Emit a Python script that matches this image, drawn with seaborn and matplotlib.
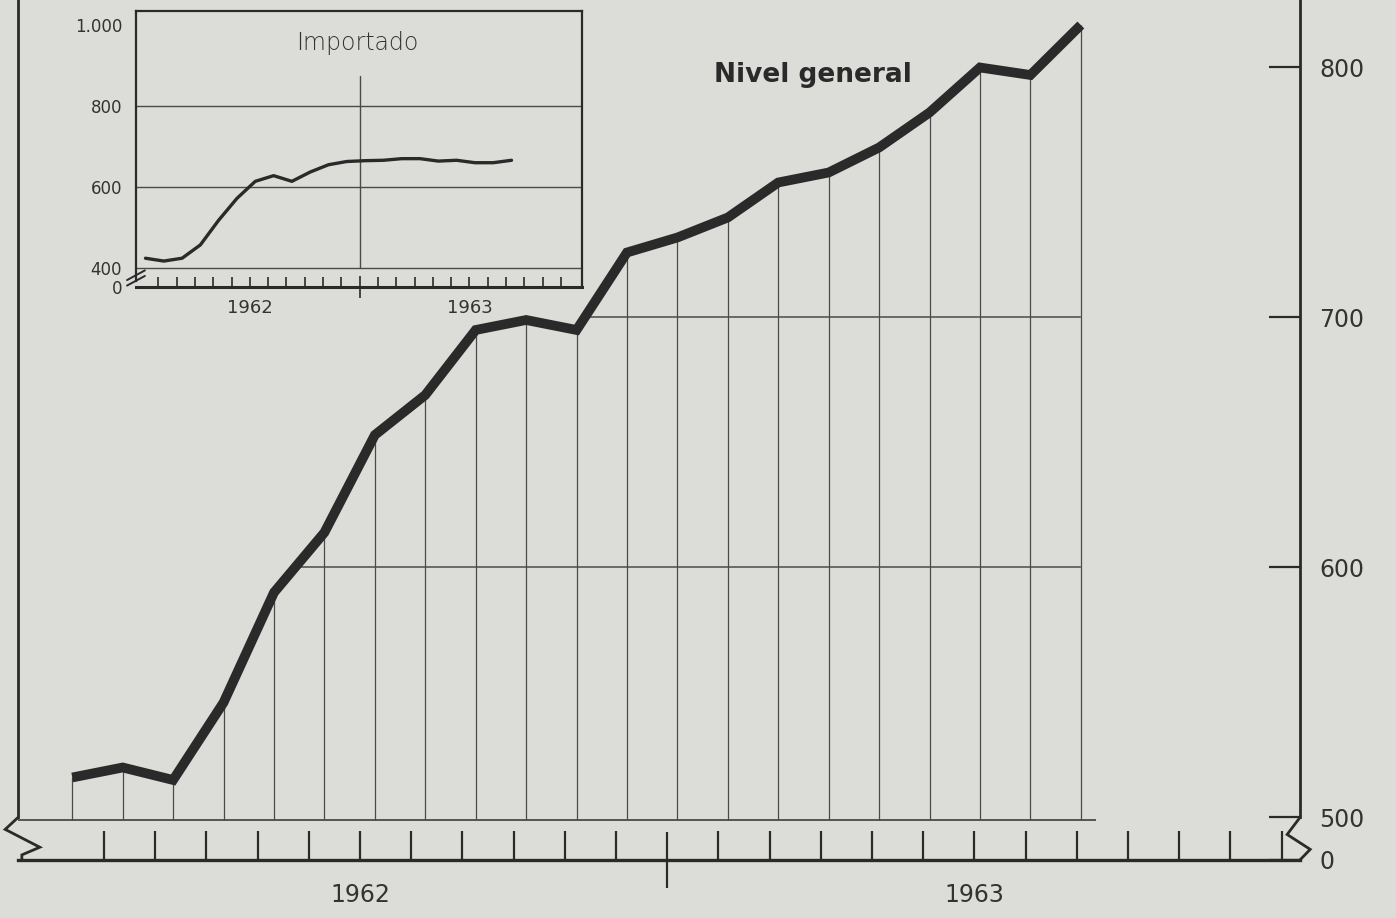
import numpy as np
import pandas as pd
import matplotlib
matplotlib.use("Agg")
import matplotlib.pyplot as plt
import matplotlib.transforms as mtransforms
import seaborn as sns

sns.set_style("white")
plt.rcParams["font.family"] = ["DejaVu Sans"]

# meses: 0 = enero 1962 ... 20 = septiembre 1963
meses = list(range(21))
nivel_general = [516, 520, 515, 546, 590, 614, 653, 669, 695, 699, 695,
                 726, 732, 740, 754, 758, 768, 782, 800, 797, 817]
importado = [424, 417, 424, 457, 518, 572, 614, 628, 614, 637, 655,
             663, 665, 666, 670, 670, 664, 666, 660, 660, 666]
anios = ["1962", "1963"]
ticks_der = [500, 600, 700, 800]
ticks_in = [400, 600, 800, 1000]
ticks_in_lbl = ["400", "600", "800", "1.000"]

PAPEL = "#dcdcd8"
TINTA = "#2a2a2a"
GRIS = "#4a4a4a"


def main():
    fig = plt.figure(figsize=(13.96, 9.18), dpi=100, facecolor=PAPEL)

    # grafico principal
    ax = fig.add_axes([0.0129, 0.0632, 0.9183, 0.9368])
    ax.set_facecolor(PAPEL)
    y0, y1 = 483, 827
    ax.set_xlim(-0.68, 24.36)
    ax.set_ylim(y0, y1)

    df = pd.DataFrame({"mes": np.array(meses) * 0.985 + 0.38, "nivel": nivel_general})
    base = 499
    ax.vlines(df["mes"], base, df["nivel"], color=GRIS, lw=0.9)
    ax.hlines(base, -0.68, df["mes"].iloc[-1] + 0.3, color=GRIS, lw=1.3)
    area = ax.fill_between(df["mes"], base, df["nivel"], facecolor="none", edgecolor="none")
    for g in (600, 700):
        ln = ax.axhline(g, color=GRIS, lw=1.1)
        ln.set_clip_path(area.get_paths()[0], area.get_transform())
    sns.lineplot(data=df, x="mes", y="nivel", ax=ax, color=TINTA, lw=7.0,
                 solid_joinstyle="miter", solid_capstyle="butt")

    ax.spines["top"].set_visible(False)
    for s in ("left", "right"):
        ax.spines[s].set_bounds(500, y1)
        ax.spines[s].set_linewidth(2.0)
        ax.spines[s].set_color(TINTA)
    ax.spines["bottom"].set_linewidth(2.4)
    ax.spines["bottom"].set_color(TINTA)

    # eje derecho
    ax.yaxis.tick_right()
    ax.set_yticks([y0] + ticks_der, ["0"] + [str(t) for t in ticks_der])
    ax.yaxis.get_major_ticks()[0].tick2line.set_visible(False)
    ax.tick_params(axis="y", right=True, direction="in", length=22, width=1.6, pad=14,
                   labelsize=17, color=TINTA, labelcolor="#333333")
    ax.set_ylabel("")

    # eje de meses
    ax.set_xticks([12], [""])
    ax.set_xticks(range(1, 25), minor=True)
    ax.tick_params(axis="x", which="minor", bottom=True, direction="in", length=21,
                   width=1.6, color=TINTA)
    ax.tick_params(axis="x", which="major", bottom=True, direction="inout", length=40,
                   width=1.6, color=TINTA)
    ax.set_xlabel("")
    trans = mtransforms.blended_transform_factory(ax.transData, ax.transAxes)
    for i, a in enumerate(anios):
        ax.text(6 + 12 * i, -0.027, a, transform=trans, ha="center", va="top",
                fontsize=17, color="#333333")

    # cortes del eje
    yc = (500 - y0) / (y1 - y0)
    zz = dict(transform=ax.transAxes, color=TINTA, lw=2.0, clip_on=False, solid_joinstyle="miter")
    ax.plot([1.0, 0.990, 1.008, 1.0], [yc, yc * 0.6, yc * 0.25, 0], **zz)
    ax.plot([0.0, -0.010, 0.017, 0.003, 0.003], [yc, yc * 0.72, yc * 0.3, yc * 0.12, 0], **zz)

    ax.text(14.85, 797, "Nivel general", ha="center", va="center", fontsize=19,
            fontweight="bold", color=TINTA)

    # grafico insertado
    axi = fig.add_axes([0.0974, 0.6874, 0.3195, 0.3007])
    axi.set_facecolor(PAPEL)
    i0, i1 = 353, 1035
    axi.set_xlim(-0.22, 24.15)
    axi.set_ylim(i0, i1)
    for g in ticks_in[:-1]:
        axi.axhline(g, color=GRIS, lw=1.0)
    axi.axvline(12, ymin=(400 - i0) / (i1 - i0), ymax=(875 - i0) / (i1 - i0), color=GRIS, lw=1.0)
    sns.lineplot(x=np.array(meses) + 0.3, y=importado, ax=axi, color=TINTA, lw=2.4)

    for s in axi.spines.values():
        s.set_color(TINTA)
        s.set_linewidth(1.6)
    axi.spines["left"].set_bounds(368, i1)
    axi.spines["bottom"].set_linewidth(2.2)
    axi.set_yticks([i0] + ticks_in, ["0"] + ticks_in_lbl)
    axi.tick_params(axis="y", length=0, pad=10, labelsize=12, labelcolor="#333333")
    axi.set_xticks([12], [""])
    axi.set_xticks(range(1, 24), minor=True)
    axi.tick_params(axis="x", which="minor", bottom=True, direction="in", length=7,
                    width=1.2, color=TINTA)
    axi.tick_params(axis="x", which="major", bottom=True, direction="inout", length=16,
                    width=1.2, color=TINTA)
    transi = mtransforms.blended_transform_factory(axi.transData, axi.transAxes)
    for i, a in enumerate(anios):
        axi.text(6 + 12 * i, -0.045, a, transform=transi, ha="center", va="top",
                 fontsize=13, color="#333333")
    zi = dict(transform=axi.transAxes, color=TINTA, lw=1.4, clip_on=False)
    axi.plot([-0.02, 0.02], [0.025, 0.06], **zi)
    axi.plot([-0.02, 0.02], [0.005, 0.04], **zi)
    axi.text(0.496, 0.885, "Importado", transform=axi.transAxes, ha="center", va="center",
             fontsize=17, fontweight="light", color="#333333")

    fig.savefig("out.png", dpi=100, facecolor=PAPEL)
    plt.close(fig)


if __name__ == "__main__":
    main()
